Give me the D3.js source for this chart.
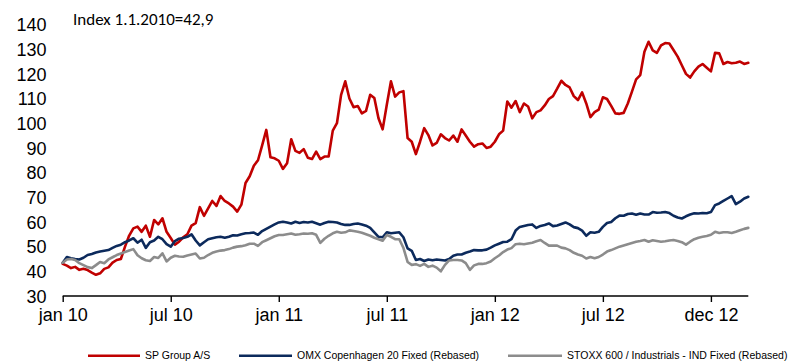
<!DOCTYPE html>
<html>
<head>
<meta charset="utf-8">
<script src="https://cdn.jsdelivr.net/npm/d3@7"></script>
<style>
  html, body { margin: 0; padding: 0; background: #fff; overflow: hidden; }
  svg { display: block; }
</style>
</head>
<body>
<svg id="chart" width="790" height="362"></svg>
<script>
// Weekly closes (Mondays), starting 4 Jan 2010; index 1.1.2010 = 42.9
const firstWeek = "2010-01-04";

const spGroup = [
  43.0, 42.3, 41.3, 41.8, 40.6, 41.0, 40.5, 39.5, 38.6, 39.2,
  41.0, 41.6, 43.5, 44.6, 45.0, 50.0, 54.5, 57.4, 58.1, 56.0,
  58.5, 54.0, 60.8, 59.0, 61.5, 56.0, 53.5, 50.8, 52.0, 53.8,
  55.0, 58.5, 59.5, 66.0, 62.5, 65.5, 68.5, 66.5, 70.5, 68.5,
  67.5, 66.2, 64.2, 67.0, 75.8, 78.5, 82.8, 85.0, 91.0, 97.3,
  86.2, 85.8, 84.8, 81.5, 83.8, 93.5, 88.8, 88.0, 89.5, 86.0,
  85.5, 88.5, 85.5, 86.5, 86.5, 97.0, 100.0, 111.5, 117.0, 110.0,
  106.5, 107.0, 104.0, 105.0, 111.5, 110.2, 102.0, 97.5, 107.5, 117.0,
  110.8, 112.5, 113.0, 94.0, 92.5, 87.5, 92.5, 98.0, 95.2, 91.0,
  92.0, 95.5, 94.0, 93.0, 95.0, 92.5, 97.5, 95.0, 92.5, 90.5,
  91.5, 91.8, 90.0, 90.5, 92.5, 95.5, 97.0, 108.8, 106.3, 109.0,
  104.5, 108.0, 106.8, 102.0, 104.5, 105.2, 107.2, 109.8, 111.0, 114.0,
  117.2, 115.5, 114.5, 111.0, 109.4, 112.5, 108.0, 102.5, 104.5, 105.5,
  110.5, 109.8, 107.0, 104.0, 103.8, 104.2, 108.0, 112.8, 117.8, 119.5,
  129.0, 133.0, 129.5, 128.5, 131.5, 132.5, 132.3, 129.7, 127.0, 123.5,
  120.0, 118.5, 121.0, 122.9, 124.0, 122.5, 121.0, 128.5, 128.3, 124.0,
  124.8, 124.3, 124.5, 125.0, 124.0, 124.5
];

const omxC20 = [
  43.5, 45.8, 45.3, 45.0, 44.8, 45.5, 46.6, 47.0, 47.6, 48.0,
  48.3, 48.6, 49.5, 50.3, 50.8, 51.8, 52.5, 53.4, 51.6, 52.8,
  49.5, 51.8, 52.5, 54.0, 53.0, 51.0, 50.0, 52.2, 53.2, 53.5,
  54.0, 55.0, 52.5, 50.5, 51.8, 53.0, 53.4, 53.8, 54.0, 53.6,
  54.0, 54.6, 54.5, 55.0, 55.4, 55.5, 55.7, 54.8, 56.3, 57.2,
  58.1, 59.0, 59.8, 60.1, 59.8, 59.4, 60.1, 59.6, 60.0, 59.8,
  60.1, 59.5, 58.9, 59.6, 60.1, 60.0, 59.8, 59.2, 58.8, 58.8,
  59.2, 59.4, 59.0, 58.5, 57.6, 55.8, 54.0, 53.8, 55.8, 55.4,
  55.6, 55.8, 53.8, 49.3, 48.3, 44.6, 45.0, 44.2, 44.8, 44.5,
  44.8, 44.6, 44.4, 45.0, 46.3, 46.8, 46.8, 47.5, 48.0, 48.6,
  48.5, 48.5, 48.8, 49.6, 50.5, 51.2, 51.9, 52.0, 53.0, 56.5,
  58.0, 58.4, 58.8, 59.0, 57.6, 58.4, 58.8, 59.4, 58.3, 58.6,
  59.2, 59.8, 59.0, 57.9, 57.5, 56.5, 54.4, 55.8, 55.6, 56.0,
  58.0, 59.6, 60.0, 61.5, 62.6, 62.5, 63.2, 63.4, 62.9, 63.4,
  63.0, 63.0, 64.0, 63.7, 63.8, 64.0, 63.6, 62.5, 61.8, 61.4,
  62.3, 63.0, 63.5, 63.4, 63.6, 63.5, 64.0, 66.8, 67.5, 68.5,
  69.5, 70.5, 67.2, 68.2, 69.5, 70.2
];

const stoxxInd = [
  43.5, 44.8, 45.0, 44.6, 43.3, 42.5, 41.7, 41.3, 42.5, 43.8,
  43.3, 44.8, 45.7, 46.6, 47.2, 47.8, 48.4, 49.0, 46.5, 45.3,
  44.5, 44.2, 45.8, 45.4, 47.3, 44.0, 45.5, 46.3, 46.0, 45.9,
  46.4, 46.8, 47.2, 45.2, 45.5, 46.6, 47.5, 48.0, 48.4, 48.6,
  49.0, 49.6, 50.0, 50.2, 50.6, 51.2, 51.2, 50.3, 51.8, 52.6,
  53.4, 54.2, 54.7, 54.7, 55.0, 55.3, 54.8, 55.0, 55.3, 55.2,
  55.4, 54.8, 51.5, 53.2, 54.4, 55.4, 56.0, 55.6, 55.8, 56.6,
  56.3, 56.0, 55.6, 55.0, 54.4, 53.6, 53.0, 52.4, 54.7, 54.0,
  53.0, 53.0, 49.5, 43.8, 42.6, 42.9, 42.2, 43.0, 41.8, 42.3,
  41.5, 40.0, 42.6, 44.4, 44.6, 44.6, 44.4, 43.3, 40.6, 42.4,
  43.0, 43.0, 43.3, 44.0, 45.3, 46.4, 47.8, 48.8, 49.4, 51.0,
  51.2, 51.0, 51.3, 51.6, 52.2, 52.7, 51.5, 50.4, 50.4, 50.4,
  49.6, 49.3, 48.6, 47.5, 46.8, 46.3, 45.2, 45.8, 45.3, 45.8,
  46.8, 48.0, 48.6, 49.3, 50.0, 50.5, 51.0, 51.5, 52.0, 52.3,
  52.7, 52.0, 52.6, 52.3, 52.0, 52.2, 52.5, 52.7, 52.3, 51.8,
  50.8, 52.0, 53.0, 53.6, 54.0, 54.3, 54.8, 56.0, 55.5, 55.8,
  55.8, 55.5, 56.0, 56.6, 57.2, 57.6
];

const seriesNames = [
  "SP Group A/S",
  "OMX Copenhagen 20 Fixed (Rebased)",
  "STOXX 600 / Industrials - IND Fixed (Rebased)"
];
const seriesColors = ["#c00000", "#0c2a5c", "#8c8c8c"];

const yTicks = [30, 40, 50, 60, 70, 80, 90, 100, 110, 120, 130, 140];
const xTickDates = ["2010-01-04", "2010-07-05", "2011-01-03", "2011-07-04",
                    "2012-01-02", "2012-07-02", "2012-12-31"];
const xTickLabels = ["jan 10", "jul 10", "jan 11", "jul 11", "jan 12", "jul 12", "dec 12"];
const xEnd = "2013-03-04";
const noteText = "Index 1.1.2010=42,9";

// ---------------------------------------------------------------
const parse = d3.utcParse("%Y-%m-%d");
const start = parse(firstWeek);
const weekDates = spGroup.map((_, i) => d3.utcDay.offset(start, 7 * i));

const svg = d3.select("#chart");
const axisFont = "'Liberation Sans', Arial, sans-serif";

const x = d3.scaleUtc()
  .domain([start, parse(xEnd)])
  .range([62.7, 748.3]);

const y = d3.scaleLinear()
  .domain([30, 140])
  .range([296, 24.5]);

// y labels (no axis line, no tick marks)
const yAxis = d3.axisLeft(y)
  .tickValues(yTicks)
  .tickSize(0)
  .tickPadding(0)
  .tickFormat(d3.format("d"));
const gy = svg.append("g")
  .attr("transform", "translate(46.5,0)")
  .call(yAxis);
gy.select(".domain").remove();
gy.selectAll("text")
  .attr("font-family", axisFont)
  .attr("font-size", 18)
  .attr("fill", "#000")
  .attr("dy", "0.35em");

// Series lines
const line = d3.line()
  .x((d, i) => x(weekDates[i]))
  .y(d => y(d));

[spGroup, omxC20, stoxxInd].forEach((vals, k) => {
  svg.append("path")
    .datum(vals)
    .attr("fill", "none")
    .attr("stroke", seriesColors[k])
    .attr("stroke-width", 2.6)
    .attr("stroke-linejoin", "round")
    .attr("stroke-linecap", "round")
    .attr("d", line);
});

// x axis
const xAxis = d3.axisBottom(x)
  .tickValues(xTickDates.map(parse))
  .tickSize(6)
  .tickPadding(6)
  .tickFormat((d, i) => xTickLabels[i]);
const gx = svg.append("g")
  .attr("transform", "translate(0,296)")
  .call(xAxis);
gx.select(".domain")
  .attr("d", `M${x.range()[0]},0H${x.range()[1]}`)
  .attr("stroke", "#000")
  .attr("stroke-width", 1.4);
gx.selectAll(".tick line")
  .attr("stroke", "#000")
  .attr("stroke-width", 1.4);
gx.selectAll("text")
  .attr("font-family", axisFont)
  .attr("font-size", 18)
  .attr("fill", "#000");

// Note at top
svg.append("text")
  .attr("x", 73)
  .attr("y", 25)
  .attr("font-family", "Carlito, Lato, 'Open Sans', sans-serif")
  .attr("font-size", 17)
  .attr("fill", "#000")
  .text(noteText);

// Legend along the bottom edge
const legendPos = [
  { x0: 88, x1: 140, tx: 145 },
  { x0: 239, x1: 292, tx: 297 },
  { x0: 508, x1: 562, tx: 567 }
];
const legendY = 355.8;
const legend = svg.append("g");
seriesNames.forEach((name, k) => {
  const p = legendPos[k];
  legend.append("line")
    .attr("x1", p.x0).attr("x2", p.x1)
    .attr("y1", legendY).attr("y2", legendY)
    .attr("stroke", seriesColors[k])
    .attr("stroke-width", 2.6);
  legend.append("text")
    .attr("x", p.tx)
    .attr("y", legendY + 3.4)
    .attr("font-family", axisFont)
    .attr("font-size", 10.5)
    .attr("fill", "#000")
    .text(name);
});
</script>
</body>
</html>
